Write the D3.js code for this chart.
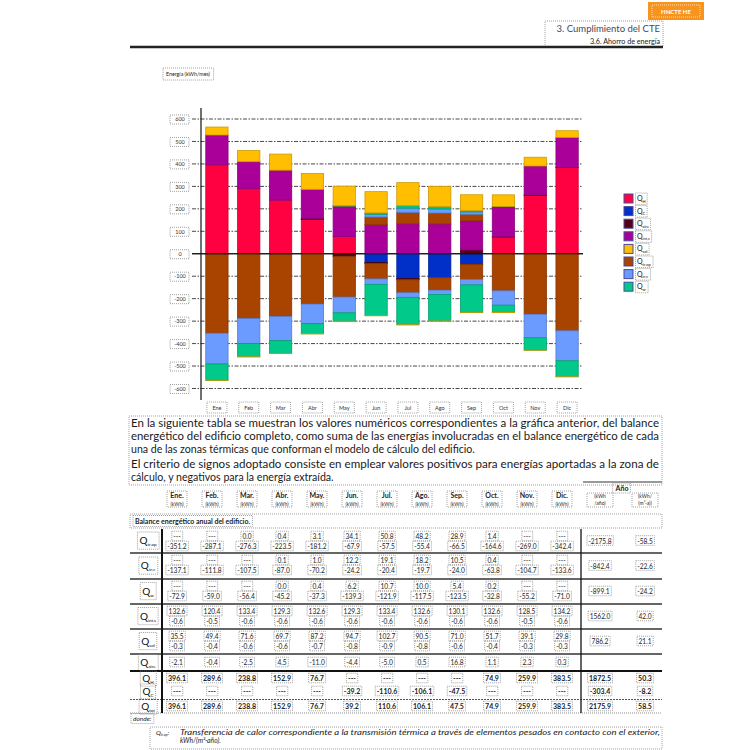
<!DOCTYPE html>
<html><head><meta charset="utf-8">
<script src="https://cdn.jsdelivr.net/npm/d3@7"></script>
<style>body{margin:0;background:#fff}svg{display:block}</style>
</head><body><svg id="page" width="750" height="750"></svg>
<script>
// ---------- DATA ----------
const months = ["Ene","Feb","Mar","Abr","May","Jun","Jul","Ago","Sep","Oct","Nov","Dic"];
const yTicks = [600,500,400,300,200,100,0,-100,-200,-300,-400,-500,-600];

const QtrOpPos = [null,null,0.0,0.4,3.1,34.1,50.8,48.2,28.9,1.4,null,null];
const QtrOpNeg = [-351.2,-287.1,-276.3,-223.5,-181.2,-67.9,-57.5,-55.4,-66.5,-164.6,-269.0,-342.4];
const QtrVPos  = [null,null,null,0.1,1.0,12.2,19.1,18.2,10.5,0.4,null,null];
const QtrVNeg  = [-137.1,-111.8,-107.5,-87.0,-70.2,-24.2,-20.4,-19.7,-24.0,-63.8,-104.7,-133.6];
const QwPos    = [null,null,null,0.0,0.4,6.2,10.7,10.0,5.4,0.2,null,null];
const QwNeg    = [-72.9,-59.0,-56.4,-45.2,-37.3,-139.3,-121.9,-117.5,-123.5,-32.8,-55.2,-71.0];
const QintPos  = [132.6,120.4,133.4,129.3,132.6,129.3,133.4,132.6,130.1,132.6,128.5,134.2];
const QintNeg  = [-0.6,-0.5,-0.6,-0.6,-0.6,-0.6,-0.6,-0.6,-0.6,-0.6,-0.5,-0.6];
const QsolPos  = [35.5,49.4,71.6,69.7,87.2,94.7,102.7,90.5,71.0,51.7,39.1,29.8];
const QsolNeg  = [-0.3,-0.4,-0.6,-0.6,-0.7,-0.8,-0.9,-0.8,-0.6,-0.4,-0.3,-0.3];
const Qaire    = [-2.1,-0.4,-2.5,4.5,-11.0,-4.4,-5.0,0.5,16.8,1.1,2.3,0.3];
const QH       = [396.1,289.6,238.8,152.9,76.7,null,null,null,null,74.9,259.9,383.5];
const QC       = [null,null,null,null,null,-39.2,-110.6,-106.1,-47.5,null,null,null];
const Qtot     = [396.1,289.6,238.8,152.9,76.7,39.2,110.6,106.1,47.5,74.9,259.9,383.5];

const annOp   = [-2175.8,-58.5];
const annV    = [-842.4,-22.6];
const annW    = [-899.1,-24.2];
const annInt  = [1562.0,42.0];
const annSol  = [786.2,21.1];
const annH    = [1872.5,50.3];
const annC    = [-303.4,-8.2];
const annTot  = [2175.9,58.5];

const legendSeries = ["QH","QC","Qaire","Qint","Qsol","Qop","Qv","Qw"];
const legendSubs   = ["H","C","aire","int,s","sol","tr,op","tr,v","w"];
const colors = {QH:"#ff0040",QC:"#0030c8",Qaire:"#56000f",Qint:"#aa0099",Qsol:"#ffbf00",Qop:"#a84300",Qv:"#6b9bff",Qw:"#00c98a"};

// ---------- HELPERS ----------
const svg = d3.select("#page");
svg.append("rect").attr("width",750).attr("height",750).attr("fill","#fff");
const FONT = "Lato, 'Open Sans', sans-serif";
function dotBox(g,x,y,w,h,col){
  return g.append("rect").attr("x",x).attr("y",y).attr("width",w).attr("height",h)
    .attr("fill","none").attr("stroke",col||"#8a8a8a").attr("stroke-width",0.8).attr("stroke-dasharray","1,1");
}
function boxAround(g,sel,px,py){
  const b = sel.node().getBBox();
  return dotBox(g,b.x-px,b.y-py,b.width+2*px,b.height+2*py);
}
function fmt(v){ return v==null ? "---" : v.toFixed(1); }
function qLabel(g,x,y,sub,big,small,anchor){
  const t = g.append("text").attr("x",x).attr("y",y).attr("font-family",FONT).attr("fill","#111")
     .attr("text-anchor",anchor||"start");
  t.append("tspan").attr("font-size",big).text("Q");
  t.append("tspan").attr("font-size",small).attr("dy",big*0.22).text(sub);
  return t;
}

// ---------- HEADER ----------
const hdr = svg.append("g");
hdr.append("rect").attr("x",648).attr("y",2).attr("width",56).attr("height",18).attr("fill","#f7941d");
dotBox(hdr,652,5,48,12,"#fff3e0");
hdr.append("text").attr("x",676).attr("y",14).attr("text-anchor","middle").attr("font-family",FONT)
  .attr("font-size",6).attr("font-weight","bold").attr("fill","#fff").text("HNCTE HE");
hdr.append("text").attr("x",660).attr("y",32).attr("text-anchor","end").attr("font-family",FONT)
  .attr("font-size",9.5).attr("fill","#3d4a5c").text("3. Cumplimiento del CTE");
hdr.append("text").attr("x",660).attr("y",44).attr("text-anchor","end").attr("font-family",FONT)
  .attr("font-size",7.2).attr("fill","#222").text("3.6. Ahorro de energía");
dotBox(hdr,545,21,118,26);
hdr.append("line").attr("x1",130).attr("x2",663).attr("y1",47).attr("y2",47).attr("stroke","#222").attr("stroke-width",2.4);

// ---------- CHART ----------
const ch = svg.append("g");
const x = d3.scaleBand().domain(months).range([201,583]).paddingInner(0.3).paddingOuter(0.15);
const y = d3.scaleLinear().domain([-600,600]).range([388.5,119]);

const eLab = ch.append("text").attr("x",166).attr("y",76).attr("font-family",FONT).attr("font-size",5.3)
  .attr("fill","#222").text("Energía (kWh/mes)");
boxAround(ch,eLab,3,3);

// gridlines
ch.selectAll("line.grid").data(yTicks).join("line").attr("class","grid")
  .attr("x1",192).attr("x2",583).attr("y1",d=>y(d)).attr("y2",d=>y(d))
  .attr("stroke",d=>d===0?"#111":"#333").attr("stroke-width",d=>d===0?1.2:0.9)
  .attr("stroke-dasharray",d=>d===0?null:"4,1.5,1.5,1.5");

// y axis labels via d3 axis
const yAxis = ch.append("g").attr("transform","translate(188,0)")
  .call(d3.axisLeft(y).tickValues(yTicks).tickSize(0).tickPadding(0).tickFormat(d=>String(d)));
yAxis.select(".domain").remove();
yAxis.selectAll("text").attr("font-family",FONT).attr("font-size",5.5).attr("fill","#333").attr("x",-8).attr("text-anchor","middle");
yAxis.selectAll(".tick").each(function(d){
  dotBox(d3.select(this),-18,-4.5,19,9);
});

// stacked bars
const keys = ["QH","QC","Qaire","QintP","QintN","QopP","QopN","QvP","QvN","QwP","QwN","QsolP","QsolN"];
const keyColor = {QH:colors.QH,QC:colors.QC,Qaire:colors.Qaire,QintP:colors.Qint,QintN:colors.Qint,
  QopP:colors.Qop,QopN:colors.Qop,QvP:colors.Qv,QvN:colors.Qv,QwP:colors.Qw,QwN:colors.Qw,QsolP:colors.Qsol,QsolN:colors.Qsol};
const rows = months.map((m,i)=>({month:m,QH:QH[i]||0,QC:QC[i]||0,Qaire:Qaire[i]||0,
  QintP:QintPos[i]||0,QintN:QintNeg[i]||0,QopP:QtrOpPos[i]||0,QopN:QtrOpNeg[i]||0,
  QvP:QtrVPos[i]||0,QvN:QtrVNeg[i]||0,QwP:QwPos[i]||0,QwN:QwNeg[i]||0,QsolP:QsolPos[i]||0,QsolN:QsolNeg[i]||0}));
const series = d3.stack().keys(keys).offset(d3.stackOffsetDiverging)(rows);
ch.selectAll("g.ser").data(series).join("g").attr("class","ser")
  .attr("fill",s=>keyColor[s.key]).attr("stroke",s=>d3.color(keyColor[s.key]).darker(0.6))
  .selectAll("rect").data(s=>s.filter(d=>Math.abs(d[1]-d[0])>0.05)).join("rect")
  .attr("x",d=>x(d.data.month)).attr("width",x.bandwidth())
  .attr("y",d=>y(Math.max(d[0],d[1]))).attr("height",d=>Math.abs(y(d[0])-y(d[1])))
  .attr("stroke-width",0.8);

// zero line on top & axis line
ch.append("line").attr("x1",192).attr("x2",583).attr("y1",y(0)).attr("y2",y(0)).attr("stroke","#111").attr("stroke-width",1.2);
ch.append("line").attr("x1",201).attr("x2",201).attr("y1",108).attr("y2",400).attr("stroke","#111").attr("stroke-width",1.2);

// month labels via axis
const xAxis = ch.append("g").attr("transform","translate(0,410)")
  .call(d3.axisBottom(x).tickSize(0).tickPadding(0));
xAxis.select(".domain").remove();
xAxis.selectAll("text").attr("font-family",FONT).attr("font-size",5.5).attr("fill","#333").attr("dy",0).attr("y",0);
xAxis.selectAll(".tick").each(function(){ dotBox(d3.select(this),-10,-8,20,11); });

// legend
const lg = ch.append("g");
legendSeries.forEach((k,i)=>{
  const yy = 194 + i*12.6;
  lg.append("rect").attr("x",624).attr("y",yy).attr("width",9).attr("height",9)
    .attr("fill",colors[k]).attr("stroke","#4a4a9a").attr("stroke-width",1);
  const t = qLabel(lg,637,yy+7,legendSubs[i],7,4);
  boxAround(lg,t,1.5,1);
});

// ---------- PARAGRAPH ----------
const pg = svg.append("g").attr("font-family",FONT).attr("font-size",10.6).attr("fill","#1a1a1a");
dotBox(pg,129,416,533,69);
const pLines = [
  ["En la siguiente tabla se muestran los valores numéricos correspondientes a la gráfica anterior, del balance",427,true],
  ["energético del edificio completo, como suma de las energías involucradas en el balance energético de cada",440,true],
  ["una de las zonas térmicas que conforman el modelo de cálculo del edificio.",453,false],
  ["El criterio de signos adoptado consiste en emplear valores positivos para energías aportadas a la zona de",468,true],
  ["cálculo, y negativos para la energía extraída.",481,false]
];
pLines.forEach(([s,yy,j])=>{
  const t = pg.append("text").attr("x",131).attr("y",yy).text(s);
  if(j) t.attr("textLength",528).attr("lengthAdjust","spacingAndGlyphs");
});

// ---------- TABLE ----------
const tb = svg.append("g").attr("font-family",FONT).attr("fill","#222");
const tx = d3.scalePoint().domain(months).range([177,562]);
const annX = [600,645];
// header
months.forEach(m=>{
  const g = tb.append("g");
  g.append("text").attr("x",tx(m)).attr("y",498).attr("text-anchor","middle").attr("font-size",7).attr("font-weight","bold").text(m+".");
  g.append("text").attr("x",tx(m)).attr("y",505.5).attr("text-anchor","middle").attr("font-size",5).text("(kWh)");
  dotBox(g,tx(m)-10,491,20,16);
});
tb.append("line").attr("x1",583).attr("x2",662).attr("y1",482).attr("y2",482).attr("stroke","#999").attr("stroke-width",2);
const ay = tb.append("text").attr("x",622).attr("y",491).attr("text-anchor","middle").attr("font-size",7).attr("font-weight","bold").text("Año");
boxAround(tb,ay,2,1);
[["(kWh","/año)"],["(kWh/","(m²·a))"]].forEach((p,i)=>{
  tb.append("text").attr("x",annX[i]).attr("y",498).attr("text-anchor","middle").attr("font-size",5).text(p[0]);
  tb.append("text").attr("x",annX[i]).attr("y",505).attr("text-anchor","middle").attr("font-size",5).text(p[1]);
  dotBox(tb,annX[i]-13,493,26,14);
});
dotBox(tb,130,514,532,14);
const bt = tb.append("text").attr("x",135).attr("y",524).attr("font-size",7).attr("font-weight","bold").text("Balance energético anual del edificio.");
boxAround(tb,bt,2,1.5);

const tRows = [
  {sub:"tr,op",pos:QtrOpPos,neg:QtrOpNeg,ann:annOp,top:529,bot:553},
  {sub:"tr,v", pos:QtrVPos, neg:QtrVNeg, ann:annV, top:553,bot:579},
  {sub:"w",    pos:QwPos,   neg:QwNeg,   ann:annW, top:579,bot:604},
  {sub:"int,s",pos:QintPos, neg:QintNeg, ann:annInt,top:604,bot:629},
  {sub:"sol",  pos:QsolPos, neg:QsolNeg, ann:annSol,top:629,bot:654}
];
function cell(xx,yy,v,bold){
  const t = tb.append("text").attr("x",xx).attr("y",yy).attr("text-anchor","middle")
    .attr("font-size",bold?7:6.6).attr("font-weight",bold?"bold":null).text(fmt(v));
  boxAround(tb,t,1.5,0.8);
}
tRows.forEach(r=>{
  const l = qLabel(tb,148,(r.top+r.bot)/2+3,r.sub,10,4.5,"middle");
  boxAround(tb,l,2,2);
  months.forEach((m,i)=>{
    cell(tx(m),r.top+10,r.pos[i]);
    cell(tx(m),r.top+20,r.neg[i]);
  });
  r.ann.forEach((v,i)=>cell(annX[i],(r.top+r.bot)/2+2.5,v));
  tb.append("line").attr("x1",130).attr("x2",662).attr("y1",r.bot).attr("y2",r.bot).attr("stroke","#333").attr("stroke-width",1.3);
});
// Qaire row
{
  const l = qLabel(tb,148,666,"aire",10,4.5,"middle"); boxAround(tb,l,2,1.5);
  months.forEach((m,i)=>cell(tx(m),665,Qaire[i]));
}
tb.append("line").attr("x1",130).attr("x2",662).attr("y1",671).attr("y2",671).attr("stroke","#111").attr("stroke-width",2);
[[QH,annH,"H",681],[QC,annC,"C",694],[Qtot,annTot,"tot",709]].forEach(([arr,ann,sub,yy])=>{
  const l = qLabel(tb,148,yy+1,sub,10,4.5,"middle"); boxAround(tb,l,2,1);
  months.forEach((m,i)=>cell(tx(m),yy,arr[i],true));
  ann.forEach((v,i)=>cell(annX[i],yy,v,true));
});
tb.append("line").attr("x1",130).attr("x2",662).attr("y1",699.5).attr("y2",699.5).attr("stroke","#555").attr("stroke-width",1).attr("stroke-dasharray","2,1");
tb.append("line").attr("x1",130).attr("x2",662).attr("y1",713).attr("y2",713).attr("stroke","#777").attr("stroke-width",0.8).attr("stroke-dasharray","1,1");
// verticals
tb.append("line").attr("x1",162).attr("x2",162).attr("y1",529).attr("y2",713).attr("stroke","#111").attr("stroke-width",2);
tb.append("line").attr("x1",581).attr("x2",581).attr("y1",529).attr("y2",713).attr("stroke","#111").attr("stroke-width",1.3);

// footnote
const dn = tb.append("text").attr("x",133).attr("y",721).attr("font-size",6.5).attr("font-style","italic").text("donde:");
boxAround(tb,dn,2,1.5);
dotBox(tb,150,727,512,22);
const fq = qLabel(tb,156,735,"tr,op",6.5,3.5);
fq.attr("font-style","italic").append("tspan").attr("dy",-1.4).attr("font-size",6.5).text(":");
tb.append("text").attr("x",180).attr("y",735).attr("font-size",6.8).attr("font-style","italic")
  .attr("textLength",480).attr("lengthAdjust","spacingAndGlyphs")
  .text("Transferencia de calor correspondiente a la transmisión térmica a través de elementos pesados en contacto con el exterior,");
tb.append("text").attr("x",180).attr("y",743).attr("font-size",6.8).attr("font-style","italic").text("kWh/(m²·año).");
</script></body></html>
